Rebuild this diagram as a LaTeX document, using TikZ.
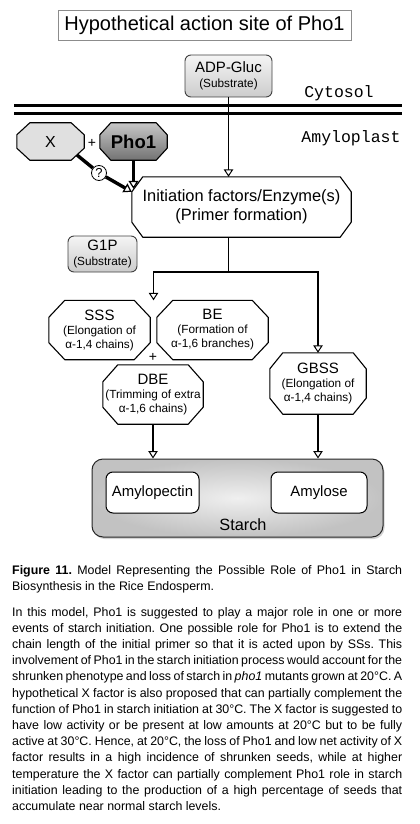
\documentclass[tikz,border=0pt]{standalone}
\usepackage{fontspec}
\setmainfont{Liberation Sans}
\setmonofont{Liberation Mono}
\usetikzlibrary{arrows.meta,positioning,calc,backgrounds,shadows}
\newcommand{\fs}[2]{\fontsize{#1}{#2}\selectfont}
\newcommand{\subtxt}[1]{{\fs{11.8}{14}#1}}
\tolerance=2000
\hyphenpenalty=10000
\frenchspacing

\begin{document}
\begin{tikzpicture}[x=1pt,y=-1pt,
  >={Triangle[length=7.5pt,width=9.5pt,fill=white,line width=1pt]},
  link/.style={line width=1.7pt,->},
  fatlink/.style={line width=3.4pt,-{Triangle[length=8pt,width=10pt,fill=white,line width=1.2pt]}},
  fatline/.style={line width=3.4pt},
  membrane/.style={line width=3pt},
  titlebox/.style={draw=black!45,line width=0.8pt,minimum width=293pt,minimum height=30pt,inner sep=0pt,font=\fs{20}{24}},
  octnode/.style={inner sep=0pt,align=center,font=\fs{15}{14}},
  octline/.style={line width=1.1pt,line join=miter},
  octfill/.style={fill=white},
  xfill/.style={fill=black!12},
  phofill/.style={top color=black!22,bottom color=black!55},
  subbox/.style={draw=black!75,line width=0.9pt,rounded corners=6pt,top color=black!4,bottom color=black!20,align=center,inner sep=0pt,font=\fs{15}{15}},
  whitebox/.style={draw=black,line width=1pt,rounded corners=7pt,fill=white,inner sep=0pt,font=\fs{14.9}{16}},
  starchbox/.style={draw=black!85,line width=1pt,rounded corners=11pt,inner color=black!6,outer color=black!24,drop shadow={opacity=0.35,shadow xshift=1.5pt,shadow yshift=-2pt}},
  mono/.style={font=\ttfamily\fs{16.5}{18}},
  plus/.style={inner sep=0pt,font=\fs{14}{16}},
  qmark/.style={circle,draw,line width=0.8pt,fill=white,inner sep=0pt,minimum size=15pt,font=\fs{13}{14}},
  captxt/.style={text width=390pt,align=justify,inner sep=0pt,font=\fs{12.4}{16.2}}]
  \useasboundingbox (0,0) rectangle (420,824);

  \node[titlebox] (title) at (204.5,25) {Hypothetical action site of Pho1};

  % cytosol side and membranes
  \node[subbox,minimum width=87pt,minimum height=42pt] (adp) at (228.5,76) {ADP-Gluc\\\subtxt{(Substrate)}};
  \node[mono] (cyto) at (339,93) {Cytosol};
  \draw[membrane] (14,106) -- (402,106);
  \draw[membrane] (14,114) -- (402,114);
  \node[mono] (amylo) at (351,138) {Amyloplast};

  % initiation
  \node[octnode,minimum width=67pt,minimum height=37pt,font=\fs{16}{18}] (xf) at (50.5,141.5) {X};
  \node[plus] (p1) at (92,143) {+};
  \node[octnode,minimum width=67pt,minimum height=37pt,font=\bfseries\fs{18.5}{20}] (pho) at (133.5,141.5) {Pho1};
  \node[octnode,minimum width=219pt,minimum height=60pt,font=\fs{16.4}{18.5}] (init) at (241.5,207)
    {Initiation factors/Enzyme(s)\\(Primer formation)};
  \node[qmark] (q) at (99,173) {?};
  \node[subbox,minimum width=69pt,minimum height=36pt] (g1p) at (102.5,254) {G1P\\\subtxt{(Substrate)}};

  % elongation and branching
  \node[octnode,minimum width=101pt,minimum height=59pt] (sss) at (99.5,330)
    {SSS\\\subtxt{(Elongation of}\\\subtxt{α-1,4 chains)}};
  \node[octnode,minimum width=111pt,minimum height=59pt] (be) at (212.5,330)
    {BE\\\subtxt{(Formation of}\\\subtxt{α-1,6 branches)}};
  \node[plus] (p2) at (153,357) {+};
  \node[octnode,minimum width=100pt,minimum height=59pt] (dbe) at (153,394.5)
    {DBE\\\subtxt{(Trimming of extra}\\\subtxt{α-1,6 chains)}};
  \node[octnode,minimum width=96pt,minimum height=61pt] (gbss) at (318,383.5)
    {GBSS\\\subtxt{(Elongation of}\\\subtxt{α-1,4 chains)}};

  % starch
  \node[starchbox,minimum width=291pt,minimum height=78pt] (starch) at (237.5,498) {};
  \node[whitebox,minimum width=93pt,minimum height=41pt] (apec) at (152.5,492.5) {Amylopectin};
  \node[whitebox,minimum width=96pt,minimum height=41pt] (amyl) at (319,492.5) {Amylose};
  \node[font=\fs{16.3}{18}] (stl) at (243,525) {Starch};

  \begin{scope}[on background layer]
    \foreach \n/\st/\cx/\cy in {xf/xfill/13/12,pho/phofill/11/12,init/octfill/11/15,sss/octfill/16/17,
        be/octfill/16/17,dbe/octfill/15/17,gbss/octfill/13/16}
      \draw[octline,\st] ($(\n.north west)+(\cx,0)$) -- ($(\n.north east)+(-\cx,0)$)
        -- ($(\n.north east)+(0,\cy)$) -- ($(\n.south east)+(0,-\cy)$)
        -- ($(\n.south east)+(-\cx,0)$) -- ($(\n.south west)+(\cx,0)$)
        -- ($(\n.south west)+(0,-\cy)$) -- ($(\n.north west)+(0,\cy)$) -- cycle;
  \end{scope}

  % connectors
  \coordinate (xcut) at ($(xf.south east)+(-7,-5)$);
  \coordinate (initcut) at ($(init.north west)+(0,15)$);
  \coordinate (phocut) at ($(init.north west)+(0,12)$);
  \coordinate (split) at (adp.south |- 0,272);
  \coordinate (grp) at ($(sss.north east)!0.5!(be.north west)$);
  \draw[link] (adp.south) -- (adp.south |- init.north);
  \draw[fatline] (xcut) -- (q);
  \draw[fatlink] (q) -- (initcut);
  \draw[fatlink] (pho.south) -- (pho.south |- phocut);
  \draw[line width=1.7pt] (init.south -| split) -- (split);
  \draw[link] (split) -| (grp);
  \draw[link] (split) -| (gbss.north);
  \draw[link] (dbe.south) -- (dbe.south |- starch.north);
  \draw[link] (gbss.south) -- (gbss.south |- starch.north);

  % caption
  \node[captxt,anchor=north west] (cap) at (12,565)
    {\textbf{Figure 11.} Model Representing the Possible Role of Pho1 in Starch\linebreak
     Biosynthesis in the Rice Endosperm.};
  \node[captxt,anchor=north west] (body) at (12,607)
    {In this model, Pho1 is suggested to play a major role in one or more\linebreak
     events of starch initiation. One possible role for Pho1 is to extend the\linebreak
     chain length of the initial primer so that it is acted upon by SSs. This\linebreak
     involvement of Pho1 in the starch initiation process would account for the\linebreak
     shrunken phenotype and loss of starch in \textit{pho1} mutants grown at 20°C. A\linebreak
     hypothetical X factor is also proposed that can partially complement the\linebreak
     function of Pho1 in starch initiation at 30°C. The X factor is suggested to\linebreak
     have low activity or be present at low amounts at 20°C but to be fully\linebreak
     active at 30°C. Hence, at 20°C, the loss of Pho1 and low net activity of X\linebreak
     factor results in a high incidence of shrunken seeds, while at higher\linebreak
     temperature the X factor can partially complement Pho1 role in starch\linebreak
     initiation leading to the production of a high percentage of seeds that\linebreak
     accumulate near normal starch levels.};
\end{tikzpicture}
\end{document}
